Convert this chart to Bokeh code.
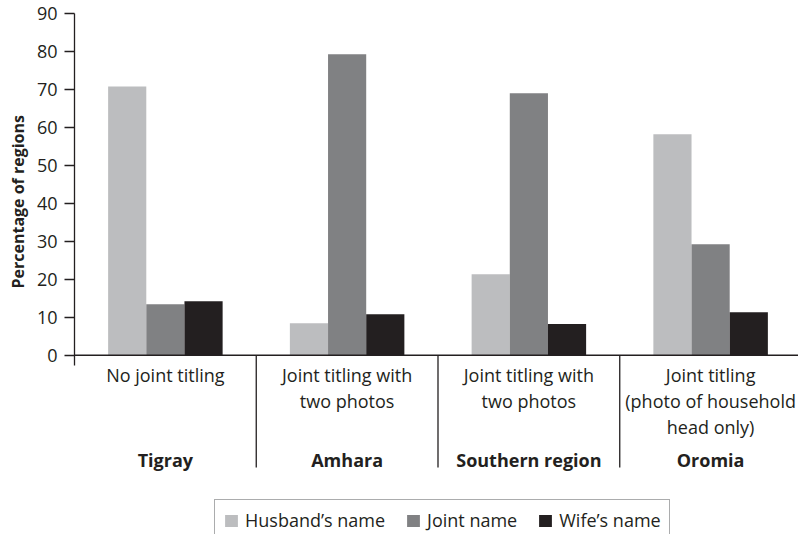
import math
from bokeh.plotting import figure
from bokeh.models import (Range1d, FixedTicker, Span, Legend, LegendItem, Title,
                          ColumnDataSource)
from bokeh.core.properties import value
from bokeh.embed import file_html
from bokeh.resources import INLINE

# ---------------- data ----------------
REGIONS = ["Tigray", "Amhara", "Southern region", "Oromia"]
POLICIES = ["No joint titling",
            "Joint titling with\ntwo photos",
            "Joint titling with\ntwo photos",
            "Joint titling\n(photo of household\nhead only)"]
SERIES = ["Husband\u2019s name", "Joint name", "Wife\u2019s name"]
HUSBAND = [70.8, 8.4, 21.3, 58.2]
JOINT = [13.4, 79.3, 69.0, 29.2]
WIFE = [14.2, 10.8, 8.2, 11.3]
Y_TICKS = [0, 10, 20, 30, 40, 50, 60, 70, 80, 90]
Y_LABEL = "Percentage of regions"

# ---------------- style / layout ----------------
COLORS = ["#BCBDBF", "#808183", "#231F20"]
TXT = "#231F20"
FONT = "Open Sans"
W, H = 798, 534
LEFT, TOP = 73, 13
PX_PER_UNIT = 3.797
GROUP_PX = 182.0
BAR_W = 0.21
ZERO_PX = TOP + 90 * PX_PER_UNIT  # screen y of value 0
TEXT_SHIFT = 7                     # empirical baseline correction (px)

frame_h = H - TOP
frame_w = W - LEFT
y_start = 90 - frame_h / PX_PER_UNIT
x_end = frame_w / GROUP_PX

p = figure(width=W, height=H, output_backend="svg", toolbar_location=None,
           x_range=Range1d(0, x_end), y_range=Range1d(y_start, 90),
           x_axis_location=None, min_border_left=LEFT, min_border_top=TOP,
           min_border_right=0, min_border_bottom=0)
p.outline_line_color = None
p.xgrid.visible = False
p.ygrid.visible = False
p.background_fill_color = "white"
p.border_fill_color = "white"

# y axis
ax = p.yaxis[0]
ax.ticker = FixedTicker(ticks=Y_TICKS)
ax.bounds = (-10.0 / PX_PER_UNIT, 90)
ax.axis_line_color = TXT
ax.axis_line_width = 1.3
ax.major_tick_line_color = TXT
ax.major_tick_line_width = 1.3
ax.major_tick_out = 10
ax.major_tick_in = 0
ax.minor_tick_line_color = None
ax.major_label_standoff = 7
ax.major_label_text_font = FONT
ax.major_label_text_font_size = "18px"
ax.major_label_text_color = TXT

# y-axis title as a side title, shifted up from the frame bottom
p.add_layout(Title(text=Y_LABEL, align="left", offset=H - 288,
                   text_font=FONT, text_font_size="16px", text_font_style="bold",
                   text_color=TXT, standoff=9), "left")

# x axis line
p.add_layout(Span(location=0, dimension="width", line_color=TXT, line_width=1.3))

n = len(REGIONS)
renderers = []
for j, (vals, col) in enumerate(zip([HUSBAND, JOINT, WIFE], COLORS)):
    xs = [i + 0.5 + (j - 1) * BAR_W for i in range(n)]
    r = p.vbar(x=xs, top=vals, bottom=0, width=BAR_W, fill_color=col, line_color=None)
    renderers.append(r)

# group separators
sep_bottom = -(467 - ZERO_PX) / PX_PER_UNIT
p.segment(x0=list(range(1, n)), x1=list(range(1, n)), y0=[0] * (n - 1),
          y1=[sep_bottom] * (n - 1), line_color=TXT, line_width=1.3)

# category labels
lx, ly, lt = [], [], []
for i, lab in enumerate(POLICIES):
    for k, line in enumerate(lab.split("\n")):
        lx.append(i + 0.5)
        ly.append(-(381 - TEXT_SHIFT - ZERO_PX + 26 * k) / PX_PER_UNIT)
        lt.append(line)
p.text(x="x", y="y", text="text", source=ColumnDataSource(dict(x=lx, y=ly, text=lt)),
       text_align="center", text_baseline="alphabetic", text_font=value(FONT),
       text_font_size="18px", text_color=TXT)

p.text(x=[i + 0.5 for i in range(n)], y=[-(466 - TEXT_SHIFT - ZERO_PX) / PX_PER_UNIT] * n,
       text=REGIONS, text_align="center", text_baseline="alphabetic", text_font=value(FONT),
       text_font_size="18px", text_font_style="bold", text_color=TXT)

legend = Legend(items=[LegendItem(label=s, renderers=[r]) for s, r in zip(SERIES, renderers)],
                orientation="horizontal", location=(140, -7),
                border_line_color="#58595B", border_line_width=1.2,
                padding=8, spacing=20, label_standoff=6, glyph_width=16, glyph_height=15,
                label_text_font=FONT, label_text_font_size="18px", label_text_color=TXT,
                background_fill_color="white", background_fill_alpha=1.0, margin=0)
p.add_layout(legend)

open("out.html", "w").write(file_html(p, INLINE))
